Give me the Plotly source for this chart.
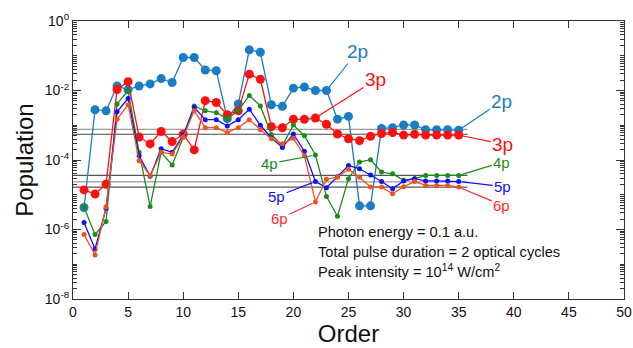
import plotly.graph_objects as go
import math

orders = list(range(1, 36))

pop_2p = [4.3e-6, 2.8e-3, 2.6e-3, 1.35e-2, 1.05e-2, 1.35e-2, 1.55e-2, 2.2e-2, 1.7e-2, 8.9e-2,
          8.9e-2, 3.9e-2, 3.7e-2, 1.55e-3, 4.1e-3, 1.48e-1, 1.26e-1, 3.9e-3, 3.5e-3, 1.17e-2,
          1.26e-2, 1.0e-2, 1.0e-2, 1.5e-3, 1.8e-3, 4.8e-6, 4.8e-6, 8.1e-4, 8.5e-4, 1.02e-3,
          1.02e-3, 7.4e-4, 7.4e-4, 7.4e-4, 7.2e-4]
pop_3p = [1.38e-5, 1.05e-5, 2.0e-5, 1.07e-2, 1.8e-2, 4.6e-4, 2.9e-4, 6.6e-4, 3.4e-4, 5.5e-4,
          1.95e-4, 5.1e-3, 4.5e-3, 2.0e-3, 2.6e-3, 2.95e-2, 2.1e-2, 9.1e-4, 8.5e-4, 1.48e-3,
          1.48e-3, 1.62e-3, 1.07e-3, 5.6e-4, 4.1e-4, 3.6e-4, 4.8e-4, 5.8e-4, 6.2e-4, 5.2e-4,
          5.5e-4, 5.2e-4, 5.2e-4, 5.2e-4, 5.2e-4]
pop_4p = [4.4e-6, 7.2e-7, 1.7e-6, 4.1e-3, 1.0e-2, 1.66e-4, 4.6e-6, 1.66e-4, 7.2e-5, 4.5e-4,
          3.6e-3, 2.6e-3, 2.3e-3, 1.55e-3, 2.6e-3, 7.2e-3, 3.6e-3, 5.4e-4, 2.6e-4, 1.02e-3,
          5.0e-4, 1.4e-4, 8.9e-6, 2.4e-6, 2.9e-5, 8.7e-5, 1.02e-4, 4.5e-5, 4.0e-5, 2.6e-5,
          2.9e-5, 3.6e-5, 3.6e-5, 3.6e-5, 3.6e-5]
pop_5p = [1.6e-6, 2.75e-7, 4.0e-6, 2.45e-3, 5.9e-3, 1.32e-4, 3.4e-5, 2.1e-4, 1.66e-4, 5.2e-4,
          3.3e-3, 1.45e-3, 1.45e-3, 9.5e-4, 1.45e-3, 2.9e-3, 1.0e-3, 4.3e-4, 2.3e-4, 5.6e-4,
          1.78e-4, 2.4e-5, 1.6e-5, 3.3e-5, 6.9e-5, 5.6e-5, 3.7e-5, 2.4e-5, 1.48e-5, 2.5e-5,
          2.9e-5, 2.5e-5, 2.5e-5, 2.5e-5, 2.4e-5]
pop_6p = [7.2e-7, 1.86e-7, 4.5e-6, 1.48e-3, 3.9e-3, 9.5e-5, 3.6e-5, 1.66e-4, 1.5e-4, 4.6e-4,
          2.6e-3, 8.5e-4, 8.5e-4, 6.2e-4, 8.5e-4, 1.45e-3, 7.4e-4, 4.1e-4, 2.95e-4, 4.2e-4,
          1.32e-4, 6.2e-6, 2.8e-5, 3.2e-5, 5.4e-5, 3.2e-5, 1.66e-5, 1.66e-5, 1.07e-5, 1.7e-5,
          2.4e-5, 1.86e-5, 1.86e-5, 1.86e-5, 1.66e-5]

asymptotes = [7.6e-4, 5.5e-4, 3.6e-5, 2.35e-5, 1.65e-5]
asym_colors = ["#9a9a9a", "#444444", "#555555", "#999999", "#555555"]

x_ticks = [0, 5, 10, 15, 20, 25, 30, 35, 40, 45, 50]
y_tick_vals = [1e0, 1e-2, 1e-4, 1e-6, 1e-8]
y_tick_text = ["10<sup>0</sup>", "10<sup>-2</sup>", "10<sup>-4</sup>", "10<sup>-6</sup>", "10<sup>-8</sup>"]

info_lines = ["Photon energy = 0.1 a.u.",
              "Total pulse duration = 2 optical cycles",
              "Peak intensity = 10<sup>14</sup> W/cm<sup>2</sup>"]
info_y = [0.241, 0.169, 0.101]

FONT = "Liberation Sans, Arial, Helvetica, sans-serif"

C2, C3, C4, C5, C6 = "#1a7cc4", "#ff1010", "#1b8c1b", "#1010ff", "#f0521e"

fig = go.Figure()

for v, c in zip(asymptotes, asym_colors):
    fig.add_trace(go.Scatter(x=[0, 35.8], y=[v, v], mode="lines",
                             line=dict(color=c, width=1.2), showlegend=False, hoverinfo="skip"))

series = [
    ("2p", pop_2p, C2, 9),
    ("3p", pop_3p, C3, 9),
    ("4p", pop_4p, C4, 5),
    ("5p", pop_5p, C5, 5),
    ("6p", pop_6p, C6, 5),
]
for name, vals, col, ms in series:
    fig.add_trace(go.Scatter(x=orders, y=vals, mode="lines+markers", name=name,
                             line=dict(color=col, width=1.3),
                             marker=dict(color=col, size=ms), showlegend=False))


def label(text, n, vals, color, ax, ay, size):
    fig.add_annotation(x=n, y=math.log10(vals[n - 1]), xref="x", yref="y",
                       text=text, showarrow=True, arrowhead=0, arrowwidth=1.2,
                       arrowcolor=color, ax=ax, ay=ay, standoff=3,
                       font=dict(color=color, size=size, family=FONT))

label("2p", 23, pop_2p, C2, 31, -39, 19)
label("3p", 22, pop_3p, C3, 60, -38, 19)
label("2p", 35, pop_2p, C2, 43, -29, 19)
label("3p", 35, pop_3p, C3, 44, 9, 19)
label("4p", 35, pop_4p, C4, 43, -13, 15)
label("5p", 35, pop_5p, C5, 44, 5, 15)
label("6p", 35, pop_6p, "#ff2a2a", 43, 18, 15)
label("4p", 22, pop_4p, C4, -46, 9, 15)
label("5p", 22, pop_5p, C5, -39, 15, 15)
label("6p", 22, pop_6p, "#ff2a2a", -36, 17, 15)

for t, yy in zip(info_lines, info_y):
    fig.add_annotation(x=0.4405, y=yy, xref="paper", yref="paper",
                       xanchor="left", yanchor="middle", text=t, showarrow=False,
                       font=dict(size=14.6, color="#111", family=FONT))

minor_vals = []
for d in range(-8, 0):
    for m in range(2, 10):
        minor_vals.append(m * 10 ** d)
    if d % 2 != 0:
        minor_vals.append(10 ** d)

fig.update_xaxes(range=[0, 50], tickvals=x_ticks, ticks="inside", ticklen=7,
                 tickwidth=1.2, tickcolor="#333", showline=True, linecolor="#333",
                 linewidth=1.2, mirror="ticks", showgrid=False, zeroline=False, automargin=False,
                 tickfont=dict(size=14, family=FONT, color="#111"),
                 title=dict(text="Order", font=dict(size=24, family=FONT, color="#111"), standoff=2))
fig.update_yaxes(type="log", range=[-8, 0], tickvals=y_tick_vals, ticktext=y_tick_text,
                 ticks="inside", ticklen=8, tickwidth=1.2, tickcolor="#333",
                 showline=True, linecolor="#333", linewidth=1.2, mirror="ticks",
                 showgrid=False, zeroline=False, automargin=False,
                 minor=dict(tickvals=minor_vals, ticks="inside", ticklen=4, tickcolor="#333", tickwidth=1),
                 tickfont=dict(size=14, family=FONT, color="#111"),
                 title=dict(text="Population", font=dict(size=24, family=FONT, color="#111"), standoff=4))

fig.update_layout(width=633, height=348, margin=dict(l=73, r=9, t=21, b=49),
                  plot_bgcolor="white", paper_bgcolor="white", font=dict(family=FONT))

fig.write_html("out.html", config={"displayModeBar": False},
               post_script="document.body.style.margin='0';document.body.style.overflow='hidden';")
